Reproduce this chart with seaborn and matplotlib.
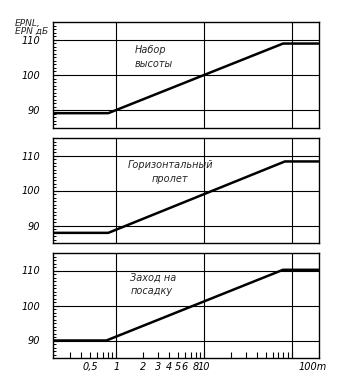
import matplotlib
matplotlib.use("Agg")
import matplotlib.pyplot as plt
import matplotlib.transforms as mtransforms
import numpy as np
import pandas as pd
import seaborn as sns

# ---- data ----
x_climb = [0.19, 0.81, 79, 200]
y_climb = [89.2, 89.2, 108.9, 108.9]
x_level = [0.19, 0.81, 83, 200]
y_level = [87.9, 87.9, 108.3, 108.3]
x_land = [0.19, 0.77, 79, 200]
y_land = [90.0, 90.0, 110.2, 110.2]

panel_labels = ["Набор\nвысоты", "Горизонтальный\nпролет", "Заход на\nпосадку"]
y_ticks = [90, 100, 110]
x_tick_vals = [0.5, 1, 2, 3, 4, 5, 6, 8, 10, 100]
x_tick_labels = ["0,5", "1", "2", "3", "4", "5", "6", "8", "10", "100m"]
y_title = "EPNL,\nEPN дБ"

frames = []
for name, xs, ys in [("climb", x_climb, y_climb), ("level", x_level, y_level), ("land", x_land, y_land)]:
    frames.append(pd.DataFrame({"panel": name, "x": xs, "y": ys}))
df = pd.concat(frames, ignore_index=True)

sns.set_theme(style="white")
plt.rcParams["font.family"] = ["Liberation Sans Narrow", "DejaVu Sans"]
plt.rcParams["font.style"] = "italic"

fig = plt.figure(figsize=(3.5, 3.87), dpi=100)
left, right = 53 / 350, 319 / 350
rows = [(22, 128), (138, 243), (253, 358)]
axes = []
for top, bot in rows:
    ax = fig.add_axes([left, 1 - bot / 387, right - left, (bot - top) / 387])
    axes.append(ax)

names = ["climb", "level", "land"]
text_pos = [(1.62, 105.1, "left"), (4.1, 105.4, "center"), (1.44, 106.0, "left")]
for i, ax in enumerate(axes):
    sub = df[df["panel"] == names[i]]
    sns.lineplot(data=sub, x="x", y="y", ax=ax, color="black", linewidth=1.8,
                 estimator=None, sort=False, legend=False)
    ax.set_xscale("log")
    ax.set_xlim(0.19, 203)
    ax.set_ylim(85, 115)
    ax.set_xlabel("")
    ax.set_ylabel("")
    for v in [1, 10, 100]:
        ax.axvline(v, color="black", linewidth=0.8, zorder=1)
    for v in y_ticks:
        ax.axhline(v, color="black", linewidth=0.8, zorder=1)
    for s in ax.spines.values():
        s.set_color("black")
        s.set_linewidth(1.0)
    ax.set_yticks(y_ticks)
    ax.set_yticklabels([str(t) for t in y_ticks], fontsize=7, style="italic")
    ax.set_yticks(np.arange(85, 116, 1), minor=True)
    ax.tick_params(axis="y", which="major", direction="in", length=4, width=0.8,
                   pad=9, left=True, colors="black", labelcolor="black")
    ax.tick_params(axis="y", which="minor", direction="in", length=2.5, width=0.7,
                   left=True, colors="black")
    tx, ty, ha = text_pos[i]
    ax.text(tx, ty, panel_labels[i], ha=ha, va="center", fontsize=7, style="italic",
            linespacing=1.5)
    if i < 2:
        ax.tick_params(axis="x", which="both", bottom=False, labelbottom=False)
    else:
        ax.set_xticks(x_tick_vals)
        ax.set_xticklabels(x_tick_labels, fontsize=7, style="italic")
        minor = [v for v in np.concatenate([np.arange(0.3, 1.0, 0.1), np.arange(2, 10, 1), np.arange(20, 100, 10)])]
        ax.set_xticks(minor, minor=True)
        ax.xaxis.set_minor_formatter(matplotlib.ticker.NullFormatter())
        ax.tick_params(axis="x", which="both", direction="in", length=4, width=0.8,
                       bottom=True, colors="black", labelcolor="black", pad=3)
        lab = ax.get_xticklabels()[-1]
        lab.set_ha("left")
        lab.set_transform(lab.get_transform() + mtransforms.ScaledTranslation(7 / 100, 0, fig.dpi_scale_trans))

fig.text(15 / 350, 1 - 19 / 387, y_title, ha="left", va="top", fontsize=6.5,
         style="italic", linespacing=0.9)

fig.savefig("out.png", dpi=100)
